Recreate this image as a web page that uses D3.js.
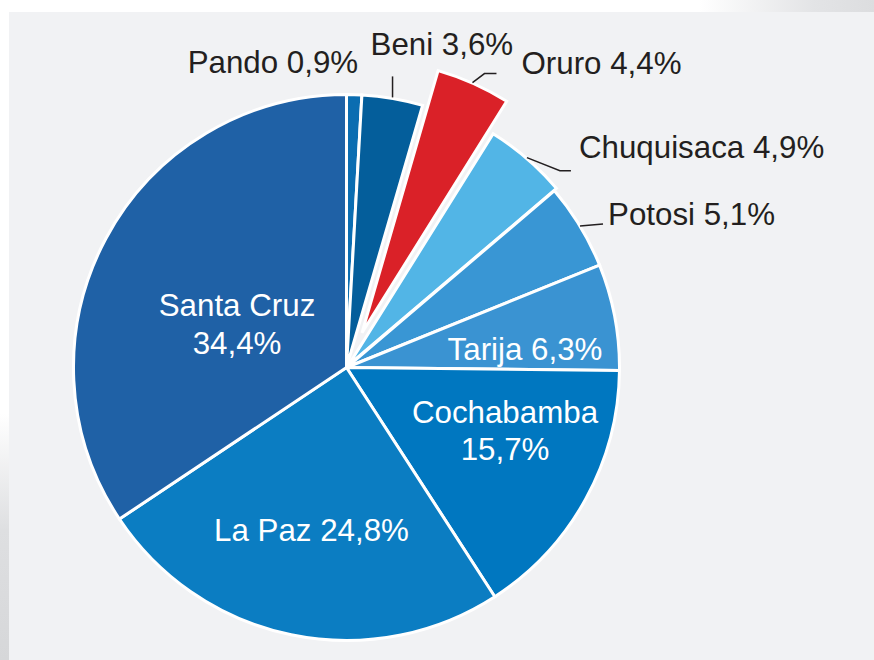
<!DOCTYPE html>
<html>
<head>
<meta charset="utf-8">
<script src="https://cdn.jsdelivr.net/npm/d3@7/dist/d3.min.js"></script>
<style>
  html, body { margin: 0; padding: 0; background: #fff; }
  svg { display: block; font-family: "Liberation Sans", Arial, sans-serif; }
</style>
</head>
<body>
<div id="chart"></div>
<script>
// departments, clockwise from 12 o'clock
var regions = ["Pando", "Beni", "Oruro", "Chuquisaca", "Potosi", "Tarija", "Cochabamba", "La Paz", "Santa Cruz"];
var shares = [0.9, 3.6, 4.4, 4.9, 5.1, 6.3, 15.7, 24.8, 34.4];
var colors = ["#0b6db1", "#045e9b", "#da2128", "#52b5e6", "#3996d4", "#3a93d2", "#0077c0", "#0b7dc2", "#1f61a6"];
var explode = [0, 0, 38, 3, 0, 0, 0, 0, 0];

var width = 874,
  height = 660;
var cx = 346.5,
  cy = 367.5,
  radius = 273;

var locale = d3.formatLocale({ decimal: ",", thousands: ".", grouping: [3], currency: ["", ""] });
var pct = locale.format(".1f");

var svg = d3
  .select("#chart")
  .append("svg")
  .attr("width", width)
  .attr("height", height);

var defs = svg.append("defs");
var topShade = defs
  .append("linearGradient")
  .attr("id", "top-shade")
  .attr("x1", "0%").attr("x2", "100%");
topShade.append("stop").attr("offset", "0%").attr("stop-color", "#ffffff");
topShade.append("stop").attr("offset", "80%").attr("stop-color", "#ffffff");
topShade.append("stop").attr("offset", "93%").attr("stop-color", "#e3e4e6");
topShade.append("stop").attr("offset", "100%").attr("stop-color", "#dcdddf");

var leftShade = defs
  .append("linearGradient")
  .attr("id", "left-shade")
  .attr("x1", "0%").attr("x2", "0%")
  .attr("y1", "0%").attr("y2", "100%");
leftShade.append("stop").attr("offset", "0%").attr("stop-color", "#ffffff");
leftShade.append("stop").attr("offset", "62%").attr("stop-color", "#ffffff");
leftShade.append("stop").attr("offset", "80%").attr("stop-color", "#dedfe1");
leftShade.append("stop").attr("offset", "100%").attr("stop-color", "#d6d7d9");

svg.append("rect").attr("width", width).attr("height", 12).attr("fill", "url(#top-shade)");
svg.append("rect").attr("y", 12).attr("width", 9).attr("height", height - 12).attr("fill", "url(#left-shade)");
svg
  .append("rect")
  .attr("x", 9)
  .attr("y", 12)
  .attr("width", width - 9)
  .attr("height", height - 12)
  .attr("fill", "#f1f2f4");

var data = regions.map(function (r, i) {
  return { name: r, value: shares[i], color: colors[i], explode: explode[i] };
});

var pie = d3
  .pie()
  .sort(null)
  .value(function (d) {
    return d.value;
  });

var arc = d3.arc().innerRadius(0).outerRadius(radius);
var arcs = pie(data);

function mid(d) {
  return (d.startAngle + d.endAngle) / 2;
}
function shift(d) {
  var a = mid(d);
  return [d.data.explode * Math.sin(a), -d.data.explode * Math.cos(a)];
}
// point on the outer rim at the slice's middle angle
function rimPoint(d) {
  var a = mid(d),
    s = shift(d);
  return [cx + s[0] + radius * Math.sin(a), cy + s[1] - radius * Math.cos(a)];
}

var g = svg.append("g").attr("transform", "translate(" + cx + "," + cy + ")");

g.selectAll(".slice")
  .data(arcs)
  .enter()
  .append("path")
  .attr("class", "slice")
  .attr("transform", function (d) {
    var s = shift(d);
    return "translate(" + s[0] + "," + s[1] + ")";
  })
  .attr("d", arc)
  .attr("fill", function (d) {
    return d.data.color;
  })
  .attr("stroke", "#fff")
  .attr("stroke-width", 3);

// outside labels: leader bends and text offset, relative to rim point
var outside = [
  { name: "Pando", leader: [], text: [4, -21.5], anchor: "end" },
  { name: "Beni", leader: [[0, -1], [0, -22]], text: [-22, -43], anchor: "start" },
  { name: "Oruro", leader: [[-1, -1], [11, -10], [23, -10]], text: [48, -10], anchor: "start" },
  { name: "Chuquisaca", leader: [[0, -1], [33, 12], [44, 12]], text: [52, -1], anchor: "start" },
  { name: "Potosi", leader: [[0, 0], [23, -2]], text: [28, -1.5], anchor: "start" },
];

// inside labels, relative to the pie centre
var inside = [
  { name: "Santa Cruz", x: -109.5, lines: [[regions[8], -51.5], [pct(shares[8]) + "%", -13.5]] },
  { name: "Tarija", x: 178.5, lines: [[regions[5] + " " + pct(shares[5]) + "%", -7.5]] },
  { name: "Cochabamba", x: 158.5, lines: [[regions[6], 55.5], [pct(shares[6]) + "%", 92.5]] },
  { name: "La Paz", x: -35, lines: [[regions[7] + " " + pct(shares[7]) + "%", 173.5]] },
];

var line = d3.line();

outside.forEach(function (o) {
  var d = arcs[regions.indexOf(o.name)];
  var p = rimPoint(d);
  if (o.leader.length) {
    svg
      .append("path")
      .attr("d", line(o.leader.map(function (q) {
        return [p[0] + q[0], p[1] + q[1]];
      })))
      .attr("fill", "none")
      .attr("stroke", "#231f20")
      .attr("stroke-width", 1.5);
  }
  svg
    .append("text")
    .attr("x", p[0] + o.text[0])
    .attr("y", p[1] + o.text[1])
    .attr("text-anchor", o.anchor)
    .attr("font-size", 31.3)
    .attr("fill", "#231f20")
    .text(o.name + " " + pct(d.data.value) + "%");
});

inside.forEach(function (o) {
  o.lines.forEach(function (l) {
    g.append("text")
      .attr("x", o.x)
      .attr("y", l[1])
      .attr("text-anchor", "middle")
      .attr("font-size", 31.3)
      .attr("fill", "#fff")
      .text(l[0]);
  });
});
</script>
</body>
</html>
